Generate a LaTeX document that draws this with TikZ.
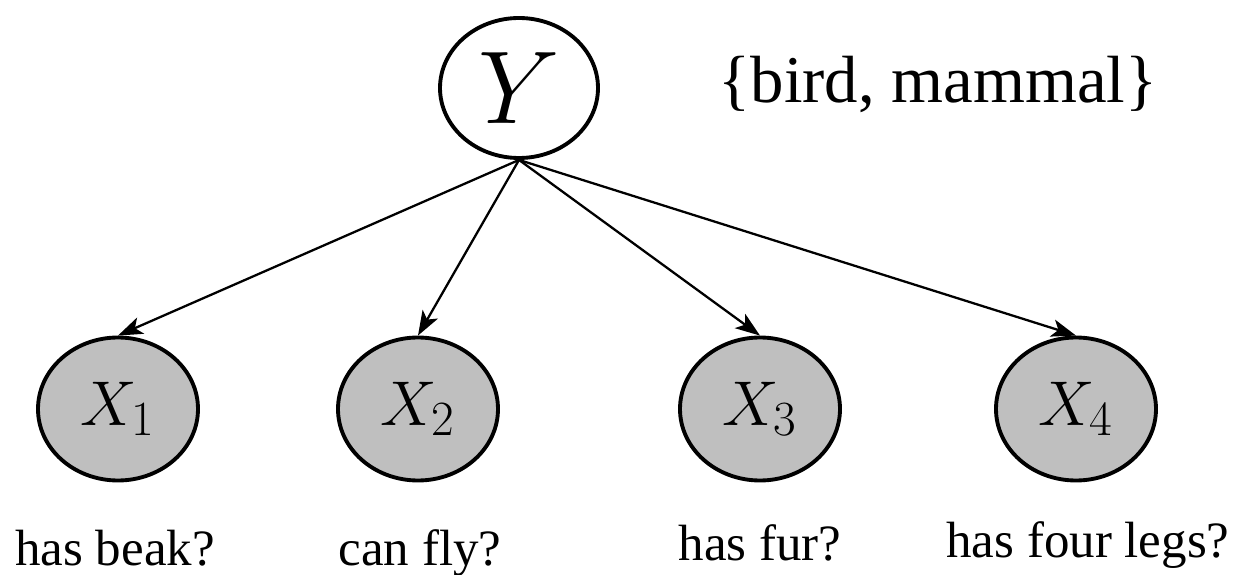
\RequirePackage{fix-cm}
\documentclass[tikz,border=0pt]{standalone}
\usepackage{fontspec}
\setmainfont{Liberation Serif}
\usepackage{amsmath}
\usetikzlibrary{arrows.meta, positioning, shapes.geometric}
\DeclareMathSizes{36}{36}{28}{20}

\begin{document}
\begin{tikzpicture}[
		>={Stealth[length=14pt, width=10pt, inset=3.5pt]},
		% class node and feature nodes
		latent/.style={draw, ellipse, line width=2.2pt, fill=white, minimum width=3.16cm, minimum height=2.8cm, inner sep=0pt, font=\fontsize{59}{60}\selectfont},
		observed/.style={draw, ellipse, line width=2.2pt, fill=gray!50, minimum width=3.2cm, minimum height=2.86cm, inner sep=0pt, font=\fontsize{36}{40}\selectfont},
		feature/.style={anchor=base, font=\fontsize{29}{32}\selectfont},
		edge/.style={->, line width=1.3pt}
		]
		
		\useasboundingbox (0,0) rectangle (24.84,11.48);
		
		% --- class variable ---
		\node[latent] (Y) at (10.38,9.72) {$Y$};
		\node[anchor=base, font=\fontsize{38}{40}\selectfont] (classes) at (18.76,9.42) {\{bird, mammal\}};
		
		% --- features ---
		\node[observed] (X1) at (2.36,3.3) {$X_1$};
		\node[observed] (X2) at (8.36,3.3) {$X_2$};
		\node[observed] (X3) at (15.2,3.3) {$X_3$};
		\node[observed] (X4) at (21.52,3.3) {$X_4$};
		
		% --- feature descriptions ---
		\node[feature] (L1) at (2.3,0.18) {has beak?};
		\node[feature] (L2) at (8.4,0.18) {can fly?};
		\node[feature] (L3) at (15.2,0.28) {has fur?};
		\node[feature] (L4) at (21.76,0.34) {has four legs?};
		
		% --- edges ---
		\foreach \i in {1,...,4} {
			\draw[edge] (Y.south) -- (X\i.north);
		}
		
	\end{tikzpicture}
\end{document}
